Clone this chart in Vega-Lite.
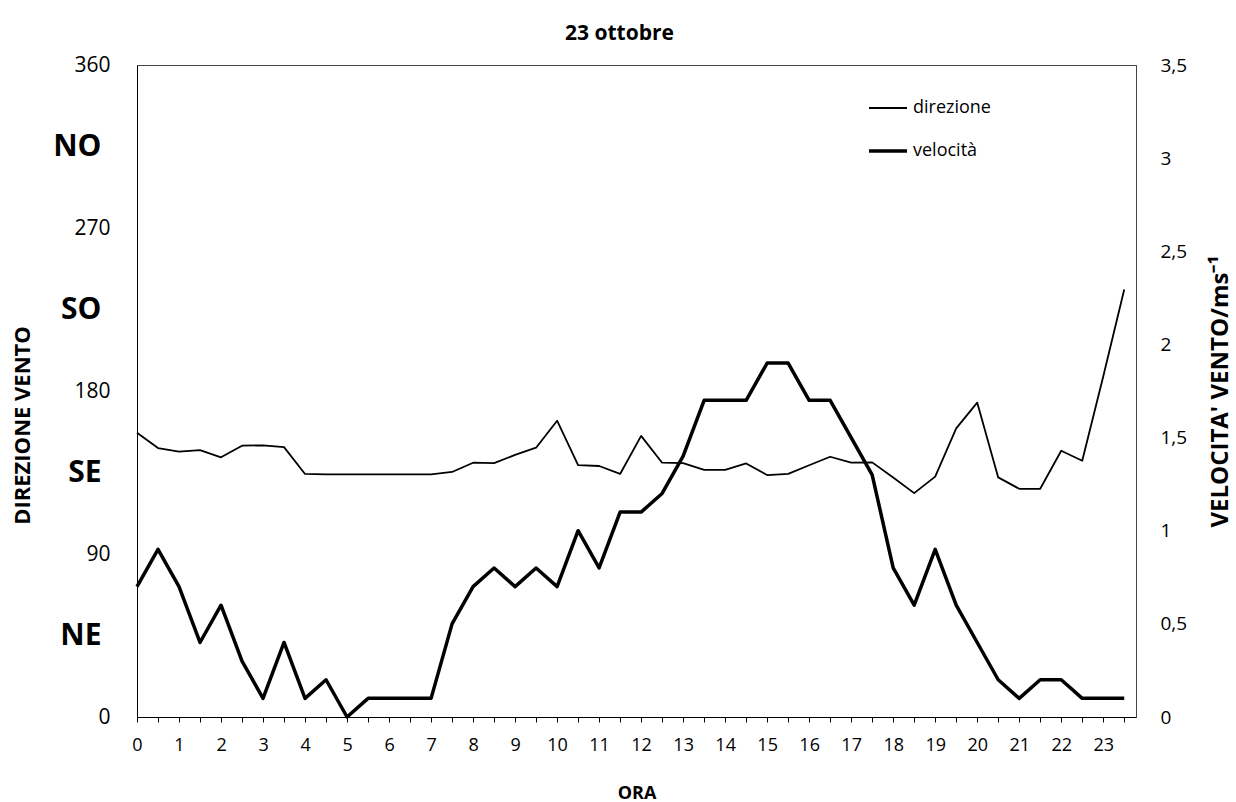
{
  "$schema": "https://vega.github.io/schema/vega-lite/v6.json",
  "width": 999,
  "height": 652,
  "autosize": {"type": "none"},
  "padding": {"left": 137, "top": 65, "right": 100, "bottom": 85},
  "background": "white",
  "config": {
    "font": "Open Sans",
    "view": {"stroke": "#444", "strokeWidth": 1}
  },
  "title": {"text": "23 ottobre", "fontSize": 21, "fontWeight": "bold", "font": "Open Sans", "color": "black", "offset": 10, "dx": -17},
  "data": {"values": [
    {"ora": 0, "direzione": 157, "velocita": 0.7},
    {"ora": 0.5, "direzione": 148.5, "velocita": 0.9},
    {"ora": 1, "direzione": 146.5, "velocita": 0.7},
    {"ora": 1.5, "direzione": 147.4, "velocita": 0.4},
    {"ora": 2, "direzione": 143.4, "velocita": 0.6},
    {"ora": 2.5, "direzione": 149.8, "velocita": 0.3},
    {"ora": 3, "direzione": 150, "velocita": 0.1},
    {"ora": 3.5, "direzione": 149, "velocita": 0.4},
    {"ora": 4, "direzione": 134.2, "velocita": 0.1},
    {"ora": 4.5, "direzione": 134, "velocita": 0.2},
    {"ora": 5, "direzione": 134, "velocita": 0.0},
    {"ora": 5.5, "direzione": 134, "velocita": 0.1},
    {"ora": 6, "direzione": 134, "velocita": 0.1},
    {"ora": 6.5, "direzione": 134, "velocita": 0.1},
    {"ora": 7, "direzione": 134, "velocita": 0.1},
    {"ora": 7.5, "direzione": 135.3, "velocita": 0.5},
    {"ora": 8, "direzione": 140.4, "velocita": 0.7},
    {"ora": 8.5, "direzione": 140.2, "velocita": 0.8},
    {"ora": 9, "direzione": 144.7, "velocita": 0.7},
    {"ora": 9.5, "direzione": 148.7, "velocita": 0.8},
    {"ora": 10, "direzione": 163.6, "velocita": 0.7},
    {"ora": 10.5, "direzione": 139.1, "velocita": 1.0},
    {"ora": 11, "direzione": 138.6, "velocita": 0.8},
    {"ora": 11.5, "direzione": 134.2, "velocita": 1.1},
    {"ora": 12, "direzione": 155.2, "velocita": 1.1},
    {"ora": 12.5, "direzione": 140.4, "velocita": 1.2},
    {"ora": 13, "direzione": 140.2, "velocita": 1.4},
    {"ora": 13.5, "direzione": 136.4, "velocita": 1.7},
    {"ora": 14, "direzione": 136.4, "velocita": 1.7},
    {"ora": 14.5, "direzione": 140, "velocita": 1.7},
    {"ora": 15, "direzione": 133.6, "velocita": 1.9},
    {"ora": 15.5, "direzione": 134.2, "velocita": 1.9},
    {"ora": 16, "direzione": 139, "velocita": 1.7},
    {"ora": 16.5, "direzione": 143.7, "velocita": 1.7},
    {"ora": 17, "direzione": 140.4, "velocita": 1.5},
    {"ora": 17.5, "direzione": 140.6, "velocita": 1.3},
    {"ora": 18, "direzione": 132.2, "velocita": 0.8},
    {"ora": 18.5, "direzione": 123.6, "velocita": 0.6},
    {"ora": 19, "direzione": 132.7, "velocita": 0.9},
    {"ora": 19.5, "direzione": 159.4, "velocita": 0.6},
    {"ora": 20, "direzione": 173.6, "velocita": 0.4},
    {"ora": 20.5, "direzione": 132.3, "velocita": 0.2},
    {"ora": 21, "direzione": 126, "velocita": 0.1},
    {"ora": 21.5, "direzione": 126, "velocita": 0.2},
    {"ora": 22, "direzione": 147, "velocita": 0.2},
    {"ora": 22.5, "direzione": 141.5, "velocita": 0.1},
    {"ora": 23, "direzione": 188, "velocita": 0.1},
    {"ora": 23.5, "direzione": 236, "velocita": 0.1}
  ]},
  "encoding": {
    "x": {
      "field": "ora", "type": "quantitative",
      "scale": {"domain": [0, 23.78], "nice": false, "zero": false},
      "axis": {
        "title": "ORA",
        "values": [0,0.5,1,1.5,2,2.5,3,3.5,4,4.5,5,5.5,6,6.5,7,7.5,8,8.5,9,9.5,10,10.5,11,11.5,12,12.5,13,13.5,14,14.5,15,15.5,16,16.5,17,17.5,18,18.5,19,19.5,20,20.5,21,21.5,22,22.5,23,23.5],
        "labelExpr": "datum.value % 1 == 0 ? format(datum.value, 'd') : ''",
        "grid": false,
        "domainColor": "black",
        "tickColor": "black",
        "tickSize": 5,
        "labelFontSize": 18,
        "labelColor": "black",
        "labelPadding": 14,
        "labelFlush": false,
        "labelOverlap": false,
        "titleFontSize": 18,
        "titleFontWeight": "bold",
        "titleColor": "black",
        "titlePadding": 30
      }
    }
  },
  "layer": [
    {
      "mark": {"type": "line", "color": "black", "strokeJoin": "round"},
      "encoding": {
        "y": {
          "field": "direzione", "type": "quantitative",
          "scale": {"domain": [0, 360], "nice": false},
          "axis": {
            "orient": "left",
            "title": "DIREZIONE VENTO",
            "values": [0, 45, 90, 135, 180, 225, 270, 315, 360],
            "labelExpr": "datum.value == 45 ? 'NE' : datum.value == 135 ? 'SE' : datum.value == 225 ? 'SO' : datum.value == 315 ? 'NO' : format(datum.value, 'd')",
            "grid": false,
            "ticks": false,
            "domainColor": "black",
            "labelColor": "black",
            "labelFontSize": {"condition": {"test": "datum.value % 90 == 45", "value": 30}, "value": 21},
            "labelFontWeight": {"condition": {"test": "datum.value % 90 == 45", "value": "bold"}, "value": "normal"},
            "labelPadding": {"condition": {"test": "datum.value % 90 == 45", "value": 36}, "value": 27},
            "labelFlush": false,
            "labelOverlap": false,
            "titleFontSize": 22,
            "titleFontWeight": "bold",
            "titleColor": "black",
            "titleX": -115,
            "titleY": 360,
            "titleBaseline": "middle"
          }
        },
        "strokeWidth": {
          "datum": "direzione", "type": "nominal",
          "scale": {"domain": ["direzione", "velocità"], "range": [1.8, 3.5]},
          "legend": {
            "orient": "none",
            "legendX": 730,
            "legendY": 23,
            "title": null,
            "padding": 0,
            "symbolType": "stroke",
            "symbolStrokeColor": "black",
            "symbolSize": 1444,
            "labelFontSize": 18,
            "labelColor": "black",
            "labelOffset": 4,
            "rowPadding": 13
          }
        }
      }
    },
    {
      "mark": {"type": "line", "color": "black", "strokeJoin": "round"},
      "encoding": {
        "y": {
          "field": "velocita", "type": "quantitative",
          "scale": {"domain": [0, 3.5], "nice": false},
          "axis": {
            "orient": "right",
            "title": "VELOCITA' VENTO/ms⁻¹",
            "values": [0, 0.5, 1, 1.5, 2, 2.5, 3, 3.5],
            "labelExpr": "replace(format(datum.value, '.2~f'), '.', ',')",
            "grid": false,
            "ticks": false,
            "domainColor": "#444",
            "labelColor": "black",
            "labelFontSize": 19,
            "labelPadding": 24,
            "labelFlush": false,
            "labelOverlap": false,
            "titleFontSize": 24,
            "titleFontWeight": "bold",
            "titleColor": "black",
            "titleAngle": 270,
            "titleX": 84,
            "titleBaseline": "middle"
          }
        },
        "strokeWidth": {"datum": "velocità", "type": "nominal"}
      }
    }
  ],
  "resolve": {"scale": {"y": "independent"}}
}
